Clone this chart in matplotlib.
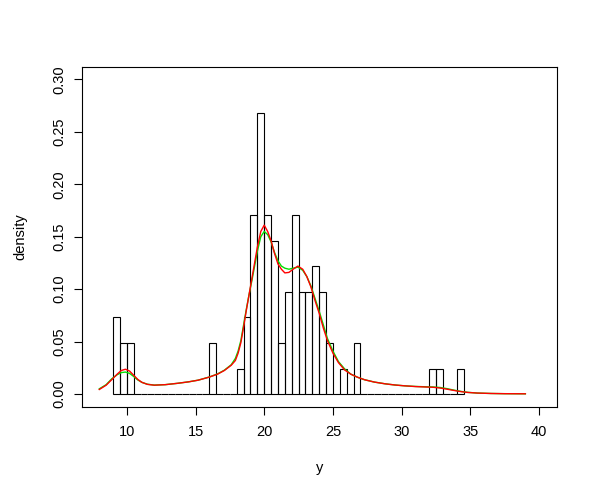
import numpy as np
import matplotlib
matplotlib.use("Agg")
import matplotlib.pyplot as plt

plt.rcParams['font.family'] = ['Liberation Sans', 'DejaVu Sans']

# histogram: bins of width 0.5 from 9.0 to 34.5, counts per bin (n = 82)
bin_edges = np.arange(9.0, 34.51, 0.5)
bin_counts = [3, 2, 2, 0, 0, 0, 0, 0, 0, 0, 0, 0, 0, 0, 2, 0, 0, 0, 1, 3,
              7, 11, 7, 6, 2, 4, 7, 4, 4, 5, 4, 2, 0, 1, 0, 2, 0, 0, 0, 0,
              0, 0, 0, 0, 0, 0, 1, 1, 0, 0, 1]
n_obs = 82

# density curves
red_x = [8.0, 8.5, 8.9, 9.3, 9.6, 9.9, 10.2, 10.5, 10.8, 11.1, 11.5, 12.0,
         12.8, 13.7, 14.5, 15.2, 16.0, 16.6, 17.1, 17.6, 17.9, 18.1, 18.3,
         18.5, 18.7, 18.9, 19.1, 19.3, 19.5, 19.75, 20.0, 20.25, 20.5, 20.75,
         21.0, 21.25, 21.5, 21.8, 22.1, 22.45, 22.8, 23.1, 23.4, 23.7, 24.0,
         24.3, 24.6, 25.0, 25.4, 25.85, 26.3, 26.8, 27.3, 28.0, 28.8, 29.5,
         30.2, 31.0, 31.7, 32.3, 32.8, 33.3, 33.8, 34.3, 34.8, 35.5, 36.5,
         37.5, 39.0]
red_y = [0.0044, 0.0085, 0.0137, 0.019, 0.0225, 0.0237, 0.0220, 0.0180,
         0.0140, 0.0112, 0.0093, 0.0085, 0.0090, 0.0103, 0.0117, 0.0133,
         0.0162, 0.0190, 0.0225, 0.0275, 0.032, 0.039, 0.049, 0.064, 0.080,
         0.095, 0.110, 0.125, 0.140, 0.155, 0.161, 0.155, 0.146, 0.134,
         0.124, 0.119, 0.1155, 0.116, 0.119, 0.122, 0.119, 0.112, 0.102,
         0.089, 0.077, 0.063, 0.051, 0.039, 0.030, 0.023, 0.019, 0.0160,
         0.0137, 0.0115, 0.0098, 0.0087, 0.0079, 0.0072, 0.0068, 0.0065,
         0.0058, 0.0047, 0.0035, 0.0024, 0.0016, 0.0010, 0.0006, 0.0004,
         0.0003]

green_x = red_x
green_y = [0.0050, 0.0090, 0.0145, 0.0185, 0.0205, 0.0210, 0.0198, 0.0168,
           0.0135, 0.0112, 0.0094, 0.0086, 0.0090, 0.0103, 0.0117, 0.0133,
           0.0163, 0.0192, 0.0228, 0.0280, 0.034, 0.041, 0.051, 0.066, 0.081,
           0.095, 0.108, 0.122, 0.136, 0.150, 0.155, 0.152, 0.145, 0.135,
           0.127, 0.122, 0.120, 0.119, 0.120, 0.121, 0.118, 0.112, 0.103,
           0.091, 0.079, 0.066, 0.053, 0.041, 0.031, 0.024, 0.019, 0.0160,
           0.0137, 0.0115, 0.0098, 0.0087, 0.0079, 0.0073, 0.0070, 0.0068,
           0.0063, 0.0052, 0.0038, 0.0026, 0.0017, 0.0010, 0.0006, 0.0004,
           0.0003]

density = np.array(bin_counts) / (n_obs * 0.5)
centers = bin_edges[:-1] + 0.25

fig = plt.figure(figsize=(5.99, 4.91), dpi=100)
ax = fig.add_axes([81.7 / 599, 1 - 406.7 / 491, 475 / 599, 340 / 491])

ax.hist(centers, bins=bin_edges, weights=density, histtype='bar',
        fill=False, edgecolor='black', linewidth=0.8)
ax.plot(green_x, green_y, color='#00e000', linewidth=1.0)
ax.plot(red_x, red_y, color='#ff0000', linewidth=1.0)

ax.set_xlim(6.72, 41.28)
ax.set_ylim(-0.012, 0.312)
ax.set_xticks([10, 15, 20, 25, 30, 35, 40])
ax.set_yticks([0.0, 0.05, 0.10, 0.15, 0.20, 0.25, 0.30])
ax.set_yticklabels(['0.00', '0.05', '0.10', '0.15', '0.20', '0.25', '0.30'],
                   rotation=90, va='center')
ax.tick_params(length=6, width=0.8, labelsize=10.5, pad=7)
ax.tick_params(axis='y', pad=5)
for s in ax.spines.values():
    s.set_linewidth(0.8)

ax.set_xlabel('y', fontsize=10.5, labelpad=16)
ax.set_ylabel('density', fontsize=10.5, labelpad=18)

fig.savefig('out.png', dpi=100)
